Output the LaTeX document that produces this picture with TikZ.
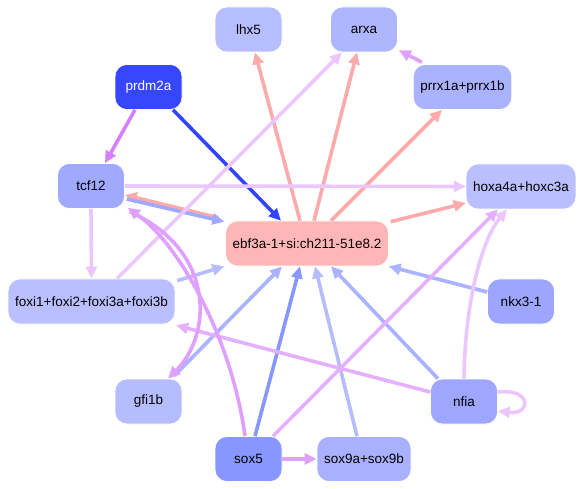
\documentclass[tikz,border=0pt]{standalone}
\usepackage{fontspec}
\setmainfont{Liberation Sans}
\usepackage{tikz}
\usetikzlibrary{arrows.meta}

\definecolor{cLhx}{HTML}{B7BEFF}
\definecolor{cArxa}{HTML}{AEB6FF}
\definecolor{cPrdm}{HTML}{3647FF}
\definecolor{cPrrx}{HTML}{AAB3FF}
\definecolor{cTcf}{HTML}{9FAAFF}
\definecolor{cHox}{HTML}{BAC0FF}
\definecolor{cEbf}{HTML}{FFB6B6}
\definecolor{cFoxi}{HTML}{BAC0FF}
\definecolor{cNkx}{HTML}{9CA6FF}
\definecolor{cGfi}{HTML}{B6BDFF}
\definecolor{cNfia}{HTML}{9DA7FF}
\definecolor{cSoxa}{HTML}{8896FF}
\definecolor{cSoxb}{HTML}{A9B1FF}
\definecolor{ePink}{HTML}{FFAAAA}
\definecolor{eBlue}{HTML}{3344FF}
\definecolor{eLblue}{HTML}{A9B3FF}
\definecolor{ePale}{HTML}{B6BDFF}
\definecolor{eViolet}{HTML}{D580FF}
\definecolor{eMauve}{HTML}{E0A0FF}
\definecolor{eOrchid}{HTML}{E4B0FF}
\definecolor{eLilac}{HTML}{EBC6FF}

\begin{document}
\begin{tikzpicture}[x=1pt, y=1pt,
	gene/.style={rounded corners=12pt, minimum width=67pt, minimum height=45pt,
		inner xsep=7pt, draw=white, line width=0.6pt,
		font=\fontsize{13.5}{16}\selectfont},
	link/.style={line width=3.6pt, -{Triangle[length=12pt,width=11pt]}}]
	\useasboundingbox (0,0) rectangle (584,-489);

	% genes
	\node[gene, fill=cLhx] (lhx5) at (248.5,-29.5) {lhx5};
	\node[gene, fill=cArxa] (arxa) at (364,-29.5) {arxa};
	\node[gene, fill=cPrdm, text=white] (prdm2a) at (148.5,-87) {prdm2a};
	\node[gene, fill=cPrrx] (prrx) at (462.5,-87) {prrx1a+prrx1b};
	\node[gene, fill=cTcf] (tcf12) at (91,-186) {tcf12};
	\node[gene, fill=cHox] (hox) at (521,-186.5) {hoxa4a+hoxc3a};
	\node[gene, fill=cEbf] (ebf) at (307,-243.5) {ebf3a-1+si:ch211-51e8.2};
	\node[gene, fill=cFoxi] (foxi) at (91.5,-301.5) {foxi1+foxi2+foxi3a+foxi3b};
	\node[gene, fill=cNkx] (nkx) at (521,-301.5) {nkx3-1};
	\node[gene, fill=cGfi] (gfi) at (148.5,-401.5) {gfi1b};
	\node[gene, fill=cNfia] (nfia) at (464,-401.5) {nfia};
	\node[gene, fill=cSoxa] (sox5) at (248.5,-459) {sox5};
	\node[gene, fill=cSoxb] (sox9) at (364,-459) {sox9a+sox9b};

	% out of ebf3a
	\draw[link, ePink] ([xshift=-7]ebf.north) -- ([xshift=6.5]lhx5.south);
	\draw[link, ePink] ([xshift=7]ebf.north) -- ([xshift=-7]arxa.south);
	\draw[link, ePink] ([xshift=24]ebf.north) -- ([xshift=-20.5]prrx.south);
	\draw[link, ePink] ([shift={(2,-1)}]ebf.north east) -- ([yshift=-16.5]hox.west);
	\draw[link, ePink] ([shift={(-7,3)}]ebf.north west) -- ([yshift=-9]tcf12.east);

	% into ebf3a
	\draw[link, cTcf] ([shift={(2,-13)}]tcf12.east) -- ([shift={(-1,-1)}]ebf.north west);
	\draw[link, eBlue] ([xshift=24.5]prdm2a.south) -- ([xshift=-26]ebf.north);
	\draw[link, ePale] ([shift={(2,-2)}]foxi.north east) -- ([xshift=-1]ebf.south west);
	\draw[link, eLblue] ([shift={(-8,3)}]gfi.north east) -- ([xshift=-25]ebf.south);
	\draw[link, cSoxa] ([xshift=6.5]sox5.north) -- ([xshift=-7]ebf.south);
	\draw[link, ePale] ([xshift=-7]sox9.north) -- ([xshift=8]ebf.south);
	\draw[link, eLblue] ([xshift=-26]nfia.north) -- ([xshift=24]ebf.south);
	\draw[link, eLblue] ([yshift=9.5]nkx.west) -- (ebf.south east);

	% the others
	\draw[link, eViolet] ([xshift=-13.5]prdm2a.south) -- ([xshift=14]tcf12.north);
	\draw[link, eMauve] ([shift={(9,2)}]prrx.north west) -- ([shift={(1,2)}]arxa.south east);
	\draw[link, eLilac] ([xshift=25.5]foxi.north) -- ([xshift=-22]arxa.south);
	\draw[link, eLilac] (tcf12.east) -- (hox.west);
	\draw[link, eLilac] (tcf12.south) -- (foxi.north);
	\draw[link, eOrchid] ([yshift=9.5]nfia.west) -- ([shift={(1,-1)}]foxi.south east);
	\draw[link, eLilac] (nfia.north) .. controls +(1,78) and +(-25,-30.5) .. ([xshift=-14]hox.south);
	\draw[link, eLilac] ([yshift=9.5]nfia.east) .. controls +(34,4) and +(34,-4) .. ([yshift=-9.5]nfia.east);
	\draw[link, eOrchid] ([xshift=24.5]sox5.north) -- ([xshift=-23]hox.south);
	\draw[link, eMauve] (sox5.east) -- (sox9.west);
	\draw[link, eMauve] ([xshift=-3.5]sox5.north) .. controls +(-13,96.5) and +(52,-37) .. ([shift={(3,1)}]tcf12.south east);
	\draw[link, eMauve] ([shift={(5,-3)}]tcf12.south east) .. controls +(85,-38) and +(45,45) .. ([xshift=19.5]gfi.north);
\end{tikzpicture}
\end{document}
